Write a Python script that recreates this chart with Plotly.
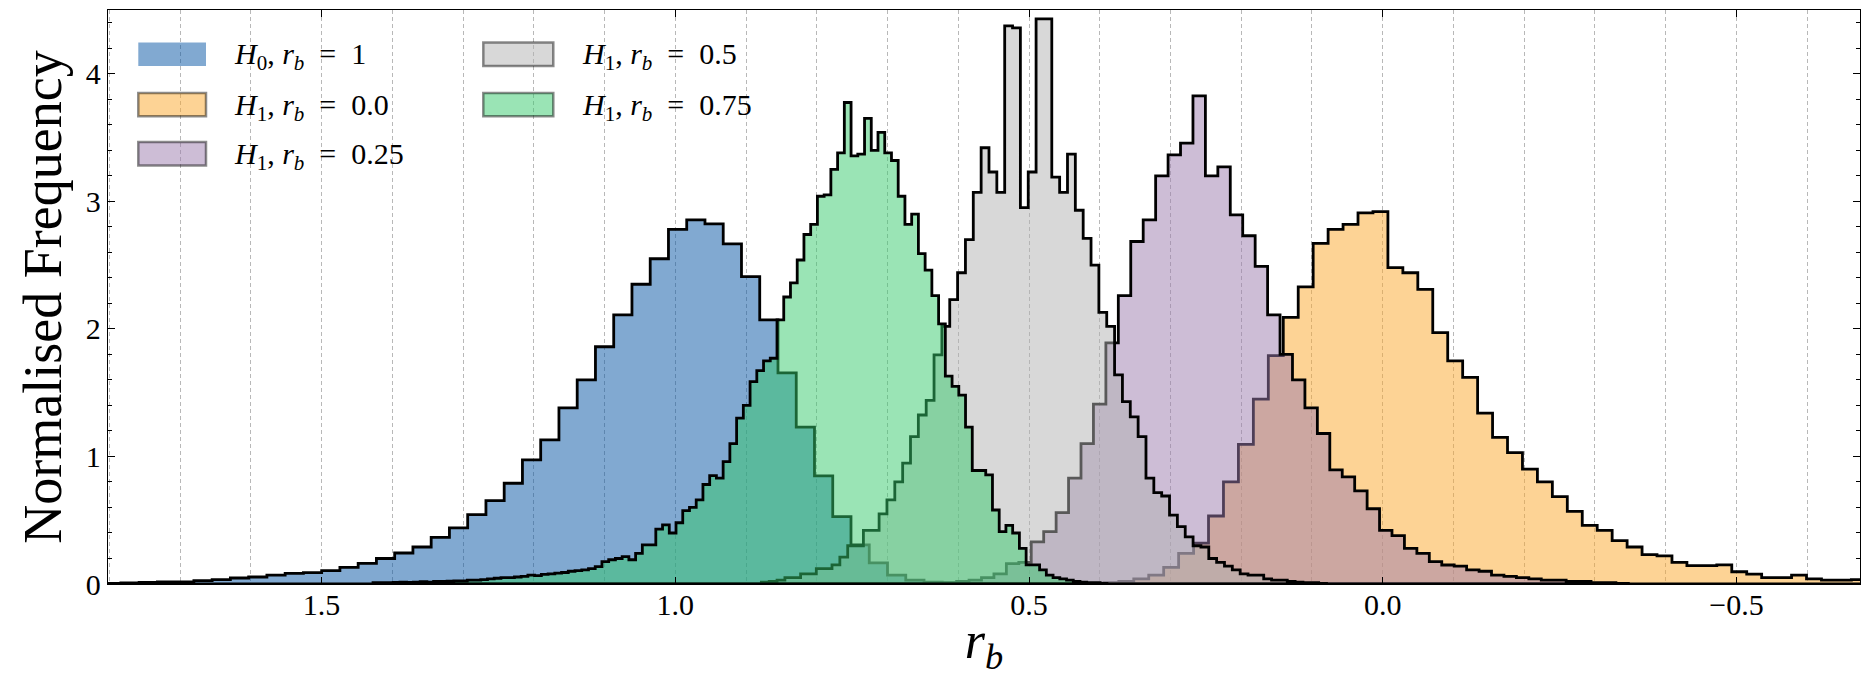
import numpy as np
import plotly.graph_objects as go

# ---------------- data ----------------
# Each histogram: left-most bin edge (largest r_b; the x axis is reversed), bin width,
# and the normalised bin heights listed from left to right on screen.
labels = ["H0, r_b = 1", "H1, r_b = 0.0", "H1, r_b = 0.25", "H1, r_b = 0.5", "H1, r_b = 0.75"]

blue_start, blue_width = 1.8094, 0.02580
blue_heights = [0.005, 0.008, 0.013, 0.016, 0.016, 0.026, 0.034, 0.047, 0.055, 0.07,
                0.084, 0.089, 0.105, 0.13, 0.162, 0.2, 0.243, 0.29, 0.366, 0.44,
                0.544, 0.654, 0.79, 0.973, 1.13, 1.38, 1.60, 1.86, 2.11, 2.35,
                2.55, 2.78, 2.855, 2.824, 2.667, 2.41, 2.07, 1.655, 1.23, 0.847,
                0.528, 0.306, 0.165, 0.07, 0.03, 0.015, 0.008, 0.004, 0.002]

orange_start, orange_width = 0.4153, 0.021131
orange_heights = [0.005, 0.01, 0.02, 0.04, 0.07, 0.13, 0.24, 0.32, 0.533, 0.80,
                  1.095, 1.45, 1.79, 2.09, 2.33, 2.67, 2.78, 2.82, 2.91, 2.92,
                  2.48, 2.44, 2.31, 1.97, 1.75, 1.62, 1.34, 1.15, 1.03, 0.90,
                  0.80, 0.685, 0.57, 0.46, 0.42, 0.34, 0.29, 0.23, 0.22, 0.17,
                  0.144, 0.144, 0.15, 0.096, 0.078, 0.05, 0.05, 0.07, 0.04, 0.03,
                  0.03, 0.035, 0.02]

purple_start, purple_width = 0.6199, 0.017583
purple_heights = [0.01, 0.02, 0.03, 0.05, 0.08, 0.16, 0.17, 0.33, 0.41, 0.56,
                  0.83, 1.10, 1.41, 1.89, 2.26, 2.685, 2.855, 3.2, 3.365, 3.456,
                  3.827, 3.2, 3.27, 2.894, 2.73, 2.49, 2.11, 1.80, 1.60, 1.38,
                  1.18, 0.894, 0.84, 0.73, 0.59, 0.42, 0.38, 0.28, 0.24, 0.175,
                  0.149, 0.14, 0.11, 0.10, 0.07, 0.06, 0.05, 0.04, 0.03, 0.03,
                  0.02, 0.02, 0.01, 0.01, 0.005]

gray_start, gray_width = 0.8783, 0.011095
gray_heights = [0.015, 0.02, 0.03, 0.05, 0.05, 0.08, 0.08, 0.12, 0.12, 0.15,
                0.21, 0.30, 0.30, 0.42, 0.42, 0.55, 0.66, 0.80, 0.947, 1.155,
                1.325, 1.44, 1.796, 2.02, 2.23, 2.44, 2.70, 3.07, 3.42, 3.23,
                3.07, 4.376, 4.36, 2.95, 3.23, 4.43, 4.43, 3.19, 3.07, 3.37,
                2.93, 2.71, 2.50, 2.13, 2.02, 1.64, 1.43, 1.31, 1.155, 0.83,
                0.716, 0.69, 0.54, 0.45, 0.37, 0.30, 0.29, 0.20, 0.17, 0.14,
                0.11, 0.08, 0.07, 0.07, 0.04, 0.03, 0.03, 0.02, 0.015, 0.01,
                0.01, 0.005]

green_start, green_width = 1.4272, 0.009517
green_heights = [0.01, 0.01, 0.01, 0.012, 0.015, 0.012, 0.015, 0.018, 0.015, 0.02,
                 0.02, 0.022, 0.025, 0.025, 0.03, 0.03, 0.035, 0.04, 0.045, 0.05,
                 0.05, 0.055, 0.06, 0.07, 0.065, 0.075, 0.08, 0.085, 0.09, 0.1,
                 0.105, 0.11, 0.12, 0.136, 0.175, 0.19, 0.2, 0.215, 0.19, 0.24,
                 0.306, 0.306, 0.43, 0.463, 0.40, 0.48, 0.575, 0.60, 0.66, 0.78,
                 0.85, 0.83, 0.96, 1.10, 1.30, 1.40, 1.587, 1.673, 1.75, 1.77,
                 2.07, 2.25, 2.36, 2.54, 2.74, 2.82, 3.04, 3.05, 3.25, 3.38,
                 3.775, 3.357, 3.37, 3.65, 3.40, 3.54, 3.38, 3.32, 3.04, 2.82,
                 2.90, 2.59, 2.46, 2.26, 2.04, 1.63, 1.55, 1.48, 1.23, 0.89,
                 0.89, 0.855, 0.58, 0.41, 0.46, 0.40, 0.28, 0.15, 0.15, 0.11,
                 0.07, 0.05, 0.04, 0.03, 0.02, 0.015, 0.01, 0.01, 0.005]

x_ticks = [1.5, 1.0, 0.5, 0.0, -0.5]
y_ticks = [0, 1, 2, 3, 4]

# ---------------- styling ----------------
FONT = "Liberation Serif"
fills = ["rgba(3,83,163,0.5)", "rgba(251,167,43,0.5)", "rgba(155,123,173,0.5)",
         "rgba(177,177,177,0.5)", "rgba(53,201,107,0.5)"]
SP = "\u2002"
legend_html = [
    f"<i>H</i><sub>0</sub>, <i>r</i><sub><i>b</i></sub>{SP}={SP}1",
    f"<i>H</i><sub>1</sub>, <i>r</i><sub><i>b</i></sub>{SP}={SP}0.0",
    f"<i>H</i><sub>1</sub>, <i>r</i><sub><i>b</i></sub>{SP}={SP}0.25",
    f"<i>H</i><sub>1</sub>, <i>r</i><sub><i>b</i></sub>{SP}={SP}0.5",
    f"<i>H</i><sub>1</sub>, <i>r</i><sub><i>b</i></sub>{SP}={SP}0.75",
]

W, H = 1863, 677
PL, PR, PT, PB = 108, 1860, 10, 584  # plot area in pixels


def step_outline(start, width, heights):
    edges = start - width * np.arange(len(heights) + 1)
    xs = [edges[0]] + list(edges[:-1]) + [edges[-1], edges[-1], edges[0]]
    ys = [0.0] + list(heights) + [heights[-1], 0.0, 0.0]
    return xs, ys


series = [
    (blue_start, blue_width, blue_heights),
    (orange_start, orange_width, orange_heights),
    (purple_start, purple_width, purple_heights),
    (gray_start, gray_width, gray_heights),
    (green_start, green_width, green_heights),
]

fig = go.Figure()
for (s, w, h), col, name in zip(series, fills, labels):
    xs, ys = step_outline(s, w, h)
    fig.add_trace(go.Scatter(
        x=xs, y=ys, mode="lines", line=dict(color="black", width=2.8, shape="hv"),
        fill="toself", fillcolor=col, name=name, showlegend=False, hoverinfo="skip"))


# ---------------- manual legend (matplotlib-like patches) ----------------
def px_x(p):
    return (p - PL) / (PR - PL)


def px_y(p):
    return (PB - p) / (PB - PT)


rows = [54.3, 104.6, 153.7]
cols = [(138.3, 206.0, 231.7), (483.3, 553.3, 580.0)]
slots = [(0, 0), (0, 1), (0, 2), (1, 0), (1, 1)]
shapes = []
annotations = []
for i, ((c, r), col, txt) in enumerate(zip(slots, fills, legend_html)):
    x0, x1, tx = cols[c]
    yc = rows[r]
    line = dict(width=0) if i == 0 else dict(color="rgba(0,0,0,0.45)", width=2.5)
    shapes.append(dict(type="rect", xref="paper", yref="paper",
                       x0=px_x(x0), x1=px_x(x1), y0=px_y(yc + 11.7), y1=px_y(yc - 11.7),
                       fillcolor=col, line=line, layer="above"))
    annotations.append(dict(xref="paper", yref="paper", x=px_x(tx), y=px_y(yc + 2),
                            xanchor="left", yanchor="middle", showarrow=False,
                            text=txt, font=dict(family=FONT, size=30, color="black")))

grid_style = dict(showgrid=True, gridcolor="#b8b8b8", gridwidth=0.8, griddash="4px,3px")

fig.update_layout(
    width=W, height=H,
    margin=dict(l=PL, r=W - PR, t=PT, b=H - PB, autoexpand=False),
    paper_bgcolor="white", plot_bgcolor="white",
    font=dict(family=FONT, size=30, color="black"),
    showlegend=False,
    shapes=shapes, annotations=annotations,
    xaxis=dict(
        range=[1.8018, -0.6746], tickmode="array", tickvals=x_ticks,
        ticktext=[("\u2212" if v < 0 else "") + f"{abs(v):.1f}" for v in x_ticks],
        ticks="inside", ticklen=7, tickwidth=1.2, tickcolor="black",
        showline=True, linecolor="black", linewidth=1.3, mirror="ticks",
        zeroline=False, tickfont=dict(size=30), ticklabelstandoff=-6,
        minor=dict(tickmode="linear", tick0=0, dtick=0.1, ticks="", **grid_style),
        title=dict(text="<i>r</i><sub><i>b</i></sub>", font=dict(size=52), standoff=12),
        **grid_style,
    ),
    yaxis=dict(
        range=[0, 4.5], tickmode="array", tickvals=y_ticks,
        ticks="inside", ticklen=7, tickwidth=1.2, tickcolor="black",
        showline=True, linecolor="black", linewidth=1.3, mirror="ticks",
        zeroline=False, showgrid=False, tickfont=dict(size=30),
        minor=dict(tickmode="linear", tick0=0, dtick=0.2, ticks="inside",
                   ticklen=3.5, tickwidth=1, tickcolor="black"),
        title=dict(text="Normalised Frequency", font=dict(size=54), standoff=6),
    ),
)

fig.write_html("out.html")
